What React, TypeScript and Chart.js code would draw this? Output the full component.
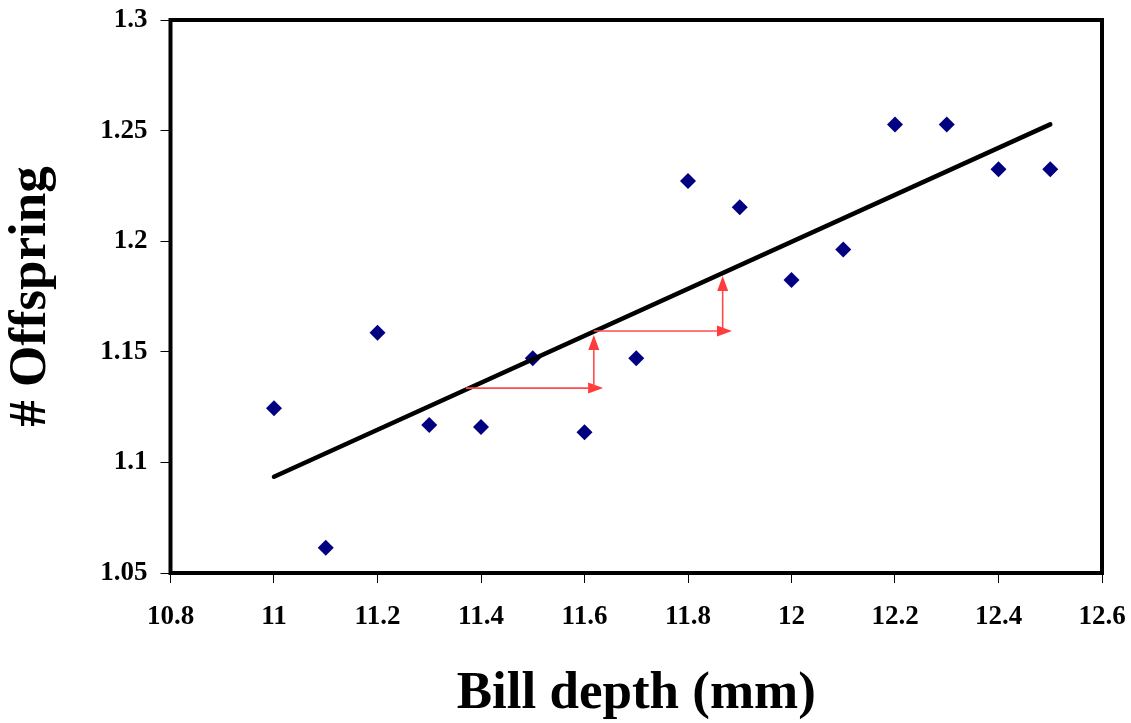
import React, { useEffect, useRef } from "react";
import { Chart, registerables } from "chart.js";

Chart.register(...registerables);

const billDepth = [11.0, 11.1, 11.2, 11.3, 11.4, 11.5, 11.6, 11.7, 11.8, 11.9, 12.0, 12.1, 12.2, 12.3, 12.4, 12.5];
const offspring = [1.1245, 1.0614, 1.1586, 1.1169, 1.116, 1.1471, 1.1136, 1.1471, 1.2272, 1.2153, 1.1825, 1.1963, 1.2528, 1.2528, 1.2325, 1.2325];

const trendX = [11.0, 12.5];
const trendY = [1.0935, 1.2528];

const arrowFromX = [11.371, 11.618, 11.618, 11.867];
const arrowFromY = [1.1336, 1.1336, 1.1594, 1.1594];
const arrowToX = [11.636, 11.618, 11.885, 11.867];
const arrowToY = [1.1336, 1.1576, 1.1594, 1.1843];

const xTicks = [10.8, 11.0, 11.2, 11.4, 11.6, 11.8, 12.0, 12.2, 12.4, 12.6];
const yTicks = [1.05, 1.1, 1.15, 1.2, 1.25, 1.3];

const FONT = "'Liberation Serif', 'Times New Roman', serif";

const framePlugin = {
  id: "frame",
  beforeDatasetsDraw(chart: any) {
    const { ctx, chartArea } = chart;
    ctx.save();
    ctx.strokeStyle = "#000";
    ctx.lineWidth = 4;
    ctx.strokeRect(chartArea.left, chartArea.top, chartArea.right - chartArea.left, chartArea.bottom - chartArea.top);
    ctx.restore();
  },
};

const arrowPlugin = {
  id: "arrows",
  afterDatasetsDraw(chart: any) {
    const { ctx, scales } = chart;
    const xs = scales.x;
    const ys = scales.y;
    ctx.save();
    ctx.strokeStyle = "#FF4A4A";
    ctx.fillStyle = "#FF3B3B";
    ctx.lineWidth = 1.6;
    for (let i = 0; i < arrowFromX.length; i++) {
      const x1 = xs.getPixelForValue(arrowFromX[i]);
      const y1 = ys.getPixelForValue(arrowFromY[i]);
      const x2 = xs.getPixelForValue(arrowToX[i]);
      const y2 = ys.getPixelForValue(arrowToY[i]);
      const ang = Math.atan2(y2 - y1, x2 - x1);
      const headLen = 15;
      const headHalf = 5.5;
      const bx = x2 - Math.cos(ang) * headLen;
      const by = y2 - Math.sin(ang) * headLen;
      ctx.beginPath();
      ctx.moveTo(x1, y1);
      ctx.lineTo(bx, by);
      ctx.stroke();
      ctx.beginPath();
      ctx.moveTo(x2, y2);
      ctx.lineTo(bx + Math.sin(ang) * headHalf, by - Math.cos(ang) * headHalf);
      ctx.lineTo(bx - Math.sin(ang) * headHalf, by + Math.cos(ang) * headHalf);
      ctx.closePath();
      ctx.fill();
    }
    ctx.restore();
  },
};

const zeroPad = (s: any) => {
  s.paddingTop = 0;
  s.paddingBottom = 0;
  s.paddingLeft = 0;
  s.paddingRight = 0;
};

export default function App() {
  const ref = useRef<HTMLCanvasElement>(null);

  useEffect(() => {
    document.body.style.margin = "0";
    const canvas = ref.current;
    if (!canvas) return;
    const chart = new Chart(canvas, {
      type: "scatter",
      data: {
        datasets: [
          {
            type: "line",
            label: "Trend",
            data: trendX.map((x, i) => ({ x, y: trendY[i] })),
            borderColor: "#000",
            borderWidth: 4.5,
            borderCapStyle: "round",
            pointRadius: 0,
            fill: false,
          } as any,
          {
            label: "Offspring",
            data: billDepth.map((x, i) => ({ x, y: offspring[i] })),
            pointStyle: "rectRot",
            pointRadius: 8,
            backgroundColor: "#000080",
            borderColor: "#000080",
            borderWidth: 0,
          },
        ],
      },
      options: {
        responsive: false,
        animation: false,
        layout: { padding: { top: 20, right: 29, left: 0, bottom: 0 } },
        plugins: { legend: { display: false }, tooltip: { enabled: false } },
        scales: {
          x: {
            type: "linear",
            min: 10.8,
            max: 12.6,
            afterBuildTicks: (s: any) => {
              s.ticks = xTicks.map((v) => ({ value: v }));
            },
            afterFit: (s: any) => {
              s.height = 150;
              zeroPad(s);
            },
            grid: { drawOnChartArea: false, drawTicks: true, tickLength: 10, color: "#000", lineWidth: 1 },
            border: { display: false },
            ticks: {
              color: "#000",
              padding: 18,
              font: { family: FONT, size: 27, weight: "bold" },
              callback: (v: any) => String(+Number(v).toFixed(2)),
              maxRotation: 0,
              autoSkip: false,
            },
            title: {
              display: true,
              text: "Bill depth (mm)",
              color: "#000",
              font: { family: FONT, size: 53, weight: "bold" },
              padding: { top: 0, bottom: -3 },
            },
          },
          y: {
            type: "linear",
            min: 1.05,
            max: 1.3,
            afterBuildTicks: (s: any) => {
              s.ticks = yTicks.map((v) => ({ value: v }));
            },
            afterFit: (s: any) => {
              s.width = 170.5;
              zeroPad(s);
            },
            grid: { drawOnChartArea: false, drawTicks: true, tickLength: 10, color: "#000", lineWidth: 1 },
            border: { display: false },
            ticks: {
              color: "#000",
              padding: 13,
              font: { family: FONT, size: 27, weight: "bold" },
              callback: (v: any) => String(+Number(v).toFixed(2)),
              autoSkip: false,
            },
            title: {
              display: true,
              text: "# Offspring",
              color: "#000",
              font: { family: FONT, size: 53, weight: "bold" },
              padding: { top: 0, bottom: 0 },
            },
          },
        },
      },
      plugins: [framePlugin, arrowPlugin],
    });
    return () => chart.destroy();
  }, []);

  return (
    <div style={{ width: 1131, height: 723 }}>
      <canvas ref={ref} width={1131} height={723} style={{ display: "block" }} />
    </div>
  );
}
